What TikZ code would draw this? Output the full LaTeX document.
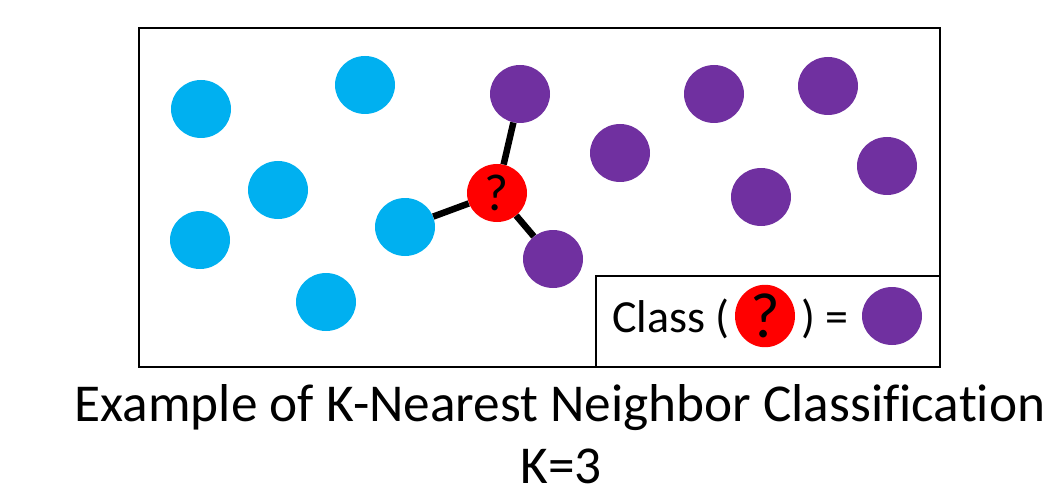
\documentclass[tikz,border=0pt]{standalone}
\usepackage{fontspec}
\setmainfont[Ligatures=NoCommon]{Carlito}
\usetikzlibrary{shapes.geometric}
\definecolor{dotblue}{HTML}{00B0F0}
\definecolor{dotpurple}{HTML}{7030A0}
\definecolor{dotred}{HTML}{FF0000}
\tikzset{
  dot/.style={ellipse, minimum width=60pt, minimum height=58pt, inner sep=0pt},
  bdot/.style={dot, fill=dotblue},
  pdot/.style={dot, fill=dotpurple},
  rdot/.style={dot, fill=dotred},
  frame/.style={draw=black, line width=2.8pt},
  link/.style={line width=6.5pt, black},
  txt/.style={inner sep=0pt, outer sep=0pt}
}
\begin{document}
\begin{tikzpicture}[x=1pt,y=-1pt]
\useasboundingbox (0,0) rectangle (1050,492);
% main frame
\draw[frame] (139,28) rectangle (940,367);
% legend frame
\draw[frame, fill=white] (596,276) rectangle (940,367);
% blue points
\node[bdot] (b1) at (201,109) {};
\node[bdot] (b2) at (365,85) {};
\node[bdot] (b3) at (278,190) {};
\node[bdot] (b4) at (200,240) {};
\node[bdot] (b5) at (405,227) {};
\node[bdot] (b6) at (326,302) {};
% purple points
\node[pdot] (p1) at (520,94) {};
\node[pdot] (p2) at (553,259) {};
\node[pdot] (p3) at (620,153) {};
\node[pdot] (p4) at (714,94) {};
\node[pdot] (p5) at (828,86) {};
\node[pdot] (p6) at (761,197) {};
\node[pdot] (p7) at (887,166) {};
% query point
\node[rdot, font=\fontsize{52}{52}\selectfont] (q) at (497,193) {?};
% neighbour links
\draw[link] (q) -- (b5);
\draw[link] (q) -- (p1);
\draw[link] (q) -- (p2);
% legend
\node[txt, anchor=base west, font=\fontsize{46}{46}\selectfont] (cls) at (612,332) {Class (};
\node[rdot, font=\fontsize{64}{64}\selectfont] (lq) at (765,316) {?};
\node[txt, anchor=base west, font=\fontsize{46}{46}\selectfont] (eq) at (801,332) {) =};
\node[pdot] (lp) at (892,316) {};
% caption
\node[txt, anchor=base, font=\fontsize{53.3}{53.3}\selectfont] (title) at (560,421) {Example of K-Nearest Neighbor Classification};
\node[txt, anchor=base, font=\fontsize{53.3}{53.3}\selectfont] (k) at (561,483) {K=3};
\end{tikzpicture}
\end{document}
